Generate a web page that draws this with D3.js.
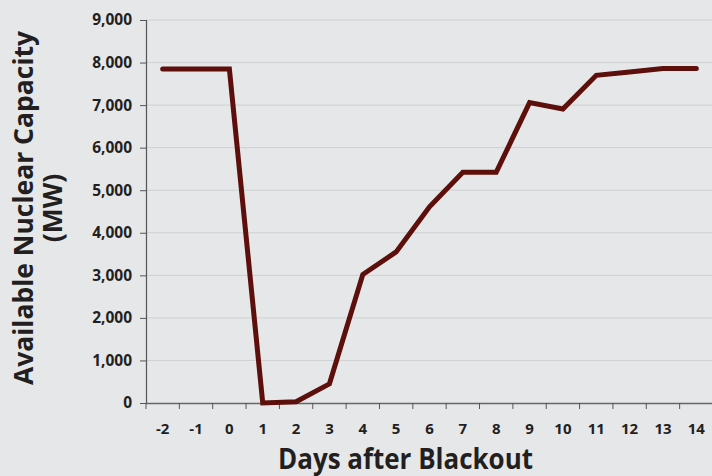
<!DOCTYPE html>
<html><head><meta charset="utf-8">
<script src="https://cdn.jsdelivr.net/npm/d3@7"></script>
<style>body{margin:0;background:#e6e7e9;} svg{display:block;}</style>
</head><body><svg id="c" width="712" height="476"></svg>
<script>
const days = ["-2","-1","0","1","2","3","4","5","6","7","8","9","10","11","12","13","14"];
const capacity = [7850,7850,7850,0,30,450,3020,3550,4610,5420,5420,7060,6910,7700,7780,7860,7860];
const yTicks = [0,1000,2000,3000,4000,5000,6000,7000,8000,9000];

const svg = d3.select("#c");
const W=712,H=476;
const m={l:146,r:713,t:20,b:403};
svg.append("rect").attr("width",W).attr("height",H).attr("fill","#e6e7e9");
const font="'Open Sans', 'DejaVu Sans', sans-serif";
const x=d3.scaleBand().domain(days).range([m.l,m.r]);
const y=d3.scaleLinear().domain([0,9000]).range([m.b,m.t]);

// gridlines
svg.append("g").selectAll("line").data(yTicks.filter(d=>d>0)).join("line")
 .attr("x1",m.l).attr("x2",W).attr("y1",d=>y(d)).attr("y2",d=>y(d))
 .attr("stroke","#cfd0d2").attr("stroke-width",1);

// y axis
const ya=svg.append("g").attr("transform",`translate(${m.l},0)`)
 .call(d3.axisLeft(y).tickValues(yTicks).tickFormat(d3.format(",")).tickSize(6).tickPadding(8));
ya.select(".domain").attr("stroke","#555").attr("stroke-width",1.2);
ya.selectAll(".tick line").attr("stroke","#555");
ya.selectAll("text").attr("font-family",font).attr("font-weight","bold").attr("font-size",15.5).attr("fill","#231f20");

// x axis
const xa=svg.append("g").attr("transform",`translate(0,${m.b})`)
 .call(d3.axisBottom(x).tickSize(0).tickPadding(20));
xa.select(".domain").attr("stroke","#666").attr("stroke-width",1.5);
xa.selectAll("text").attr("font-family",font).attr("font-weight","bold").attr("font-size",15).attr("fill","#231f20");
xa.append("g").selectAll("line").data(d3.range(days.length+1)).join("line")
 .attr("x1",i=>m.l+i*x.step()).attr("x2",i=>m.l+i*x.step()).attr("y1",0).attr("y2",6)
 .attr("stroke","#555");

// line
const line=d3.line().x((d,i)=>x(days[i])+x.bandwidth()/2).y(d=>y(d));
svg.append("path").datum(capacity).attr("d",line).attr("fill","none")
 .attr("stroke","#5c0f0b").attr("stroke-width",5).attr("stroke-linejoin","miter").attr("stroke-linecap","round");

// titles
svg.append("text").attr("x",278).attr("y",469).attr("text-anchor","start")
 .attr("textLength",255).attr("lengthAdjust","spacingAndGlyphs")
 .attr("font-family",font).attr("font-weight","bold").attr("font-size",28).attr("fill","#231f20").text("Days after Blackout");
const yt=svg.append("text").attr("transform","translate(0,208) rotate(-90)").attr("text-anchor","middle")
 .attr("font-family",font).attr("font-weight","bold").attr("font-size",26.5).attr("fill","#231f20");
yt.append("tspan").attr("x",0).attr("y",33).text("Available Nuclear Capacity");
yt.append("tspan").attr("x",0).attr("y",62).text("(MW)");
</script></body></html>
